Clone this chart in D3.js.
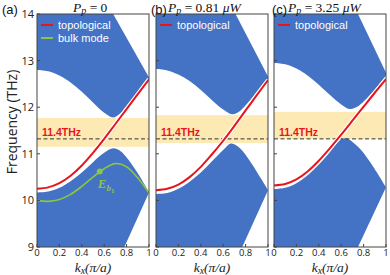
<!DOCTYPE html>
<html>
<head>
<meta charset="utf-8">
<script src="https://cdn.jsdelivr.net/npm/d3@7"></script>
<style>
  body { margin: 0; background: #fff; }
  svg { display: block; }
</style>
</head>
<body>
<svg id="chart" width="390" height="275"></svg>
<script>
// ---- data ----
var panel_tags = ["(a)", "(b)", "(c)"]
var power_values = ["0", "0.81", "3.25"]
var power_units = ["", "\u03bcW", "\u03bcW"]
var x_ticks = [0, 0.2, 0.4, 0.6, 0.8, 1]
var x_tick_labels = ["0", "0.2", "0.4", "0.6", "0.8", "1"]
var y_ticks = [9, 10, 11, 12, 13, 14]

// topological edge state [k, f]
var red_a = [[0,10.25],[0.1,10.28],[0.2,10.37],[0.3,10.53],[0.4,10.75],[0.5,11.02],[0.6,11.32],[0.7,11.64],[0.8,11.96],[0.9,12.28],[1,12.6]]
var red_b = [[0,10.22],[0.1,10.25],[0.2,10.34],[0.3,10.5],[0.4,10.72],[0.5,10.99],[0.6,11.28],[0.7,11.6],[0.8,11.93],[0.9,12.26],[1,12.58]]
var red_c = [[0,10.32],[0.1,10.35],[0.2,10.45],[0.3,10.62],[0.4,10.85],[0.5,11.12],[0.6,11.41],[0.7,11.71],[0.8,12.01],[0.9,12.31],[1,12.6]]

// lower edge of the upper bulk band
var upper_a = [[0,12.8],[0.1,12.77],[0.2,12.68],[0.3,12.53],[0.4,12.33],[0.5,12.1],[0.6,11.88],[0.68,11.78],[0.75,11.88],[0.8,12.03],[0.9,12.32],[1,12.62]]
var upper_b = [[0,12.82],[0.1,12.79],[0.2,12.7],[0.3,12.56],[0.4,12.37],[0.5,12.15],[0.6,11.95],[0.68,11.85],[0.75,11.92],[0.8,12.04],[0.9,12.32],[1,12.62]]
var upper_c = [[0,12.95],[0.1,12.92],[0.2,12.83],[0.3,12.68],[0.4,12.48],[0.5,12.26],[0.6,12.06],[0.68,11.96],[0.75,12.02],[0.8,12.12],[0.9,12.38],[1,12.68]]
// light-line cut of the upper band: k where it leaves the top, f at k=1
var upper_cut = [[0.68, 12.64], [0.71, 12.66], [0.75, 12.74]]

// upper edge of the lower bulk band
var lower_a = [[0,10.17],[0.1,10.19],[0.2,10.27],[0.3,10.41],[0.4,10.6],[0.5,10.82],[0.6,11.02],[0.68,11.12],[0.75,11.05],[0.8,10.92],[0.9,10.58],[1,10.17]]
var lower_b = [[0,10.14],[0.1,10.16],[0.2,10.25],[0.3,10.4],[0.4,10.6],[0.5,10.84],[0.6,11.08],[0.67,11.22],[0.75,11.12],[0.85,10.8],[1,10.22]]
var lower_c = [[0,10.24],[0.1,10.27],[0.2,10.37],[0.3,10.54],[0.4,10.77],[0.5,11.04],[0.6,11.31],[0.65,11.33],[0.75,11.15],[0.85,10.85],[1,10.28]]
// k where the lower band's light line hits f = 9
var lower_cut = [0.78, 0.77, 0.75]

// bulk mode (panel a only)
var green_a = [[0,10.0],[0.1,9.98],[0.2,10.02],[0.3,10.13],[0.4,10.3],[0.5,10.5],[0.6,10.68],[0.7,10.79],[0.8,10.72],[0.9,10.48],[1,10.16]]
var eb1_point = [0.56, 10.62]

// shaded gap [bottom, top] and the 11.4 THz line
var gap_bands = [[11.15, 11.77], [11.23, 11.83], [11.32, 11.9]]
var line_freq = 11.32

// ---- layout ----
var svg = d3.select("#chart")
var panel_left = [37, 156, 274],
    panel_width = 112,
    top_y = 14, bottom_y = 247
var blue = "#4472c4", red = "#e8141c", green = "#8cc63f", gold = "#fde9b4"

var y_scale = d3.scaleLinear().domain([9, 14]).range([bottom_y, top_y])

var reds = [red_a, red_b, red_c],
    uppers = [upper_a, upper_b, upper_c],
    lowers = [lower_a, lower_b, lower_c]

function band_path(x, edge, cut_k, cut_f, flat_f) {
	var head = "M" + x(0) + "," + y_scale(flat_f) +
	           "L" + x(cut_k) + "," + y_scale(flat_f) +
	           "L" + x(1) + "," + y_scale(cut_f)
	var curve = d3.line()
	  .x(d=>x(d[0]))
	  .y(d=>y_scale(d[1]))
	  .curve(d3.curveCatmullRom)(edge.slice().reverse())
	return head + "L" + curve.slice(1) + "Z"
}

panel_left.forEach(function(left, p) {
	var x_scale = d3.scaleLinear().domain([0, 1]).range([left, left + panel_width])
	var line = d3.line().x(d=>x_scale(d[0])).y(d=>y_scale(d[1])).curve(d3.curveCatmullRom)

	svg.append("clipPath").attr("id", "clip" + p)
	  .append("rect")
	  .attr("x", left).attr("y", top_y)
	  .attr("width", panel_width).attr("height", bottom_y - top_y)

	var g = svg.append("g").attr("clip-path", "url(#clip" + p + ")")

	// gap shading
	g.append("rect")
	  .attr("x", left)
	  .attr("y", y_scale(gap_bands[p][1]))
	  .attr("width", panel_width)
	  .attr("height", y_scale(gap_bands[p][0]) - y_scale(gap_bands[p][1]))
	  .style("fill", gold)

	// bulk bands
	g.append("path")
	  .attr("d", band_path(x_scale, uppers[p], upper_cut[p][0], upper_cut[p][1], 14))
	  .style("fill", blue)
	var low = lowers[p]
	g.append("path")
	  .attr("d", band_path(x_scale, low, lower_cut[p], low[low.length - 1][1], 9))
	  .style("fill", blue)

	// 11.4 THz line
	g.append("line")
	  .attr("x1", left).attr("x2", left + panel_width)
	  .attr("y1", y_scale(line_freq)).attr("y2", y_scale(line_freq))
	  .style("stroke", "#333").style("stroke-width", 1)
	  .style("stroke-dasharray", "4,2.5")
	svg.append("text")
	  .attr("x", left + 5).attr("y", y_scale(line_freq) - 3)
	  .text("11.4THz")
	  .style("fill", red).style("font-family", "Liberation Sans").style("font-weight", "bold")
	  .style("font-size", "10.5px")

	if (p == 0) {
		g.append("path").attr("d", line(green_a))
		  .style("fill", "none").style("stroke", green).style("stroke-width", 1.6)
		g.append("circle")
		  .attr("cx", x_scale(eb1_point[0])).attr("cy", y_scale(eb1_point[1])).attr("r", 3)
		  .style("fill", green)
		var eb = svg.append("text")
		  .attr("x", x_scale(eb1_point[0]) - 2).attr("y", y_scale(eb1_point[1]) + 16)
		  .style("fill", green).style("font-family", "Liberation Serif")
		  .style("font-style", "italic").style("font-weight", "bold").style("font-size", "13px")
		eb.append("tspan").text("E")
		eb.append("tspan").attr("dy", 3).style("font-size", "9px").text("b")
		eb.append("tspan").attr("dy", 2).style("font-size", "7px").style("font-style", "normal").text("1")
	}

	// topological state with white halo
	g.append("path").attr("d", line(reds[p]))
	  .style("fill", "none").style("stroke", "#fff").style("stroke-width", 4.2)
	g.append("path").attr("d", line(reds[p]))
	  .style("fill", "none").style("stroke", red).style("stroke-width", 2)

	// legend
	var legend = p == 0 ? [["topological", red], ["bulk mode", green]] : [["topological", red]]
	legend.forEach(function(l, i) {
		var ly = 25 + i * 13
		svg.append("line")
		  .attr("x1", left + 4).attr("x2", left + 16).attr("y1", ly).attr("y2", ly)
		  .style("stroke", l[1]).style("stroke-width", 2)
		svg.append("text")
		  .attr("x", left + 21).attr("y", ly + 4)
		  .text(l[0])
		  .style("fill", "#fff").style("font-family", "Liberation Sans").style("font-size", "11px")
	})

	// frame
	svg.append("rect")
	  .attr("x", left).attr("y", top_y)
	  .attr("width", panel_width).attr("height", bottom_y - top_y)
	  .style("fill", "none").style("stroke", "#444").style("stroke-width", 1)

	// ticks, inward
	svg.selectAll(".xt" + p).data(x_ticks).enter().append("line")
	  .attr("x1", d=>x_scale(d)).attr("x2", d=>x_scale(d))
	  .attr("y1", bottom_y).attr("y2", bottom_y - 3)
	  .style("stroke", "#444")
	svg.selectAll(".xl" + p).data(x_ticks).enter().append("text")
	  .attr("x", d=>x_scale(d)).attr("y", bottom_y + 9)
	  .attr("text-anchor", "middle")
	  .text((d,i)=>x_tick_labels[i])
	  .style("font-family", "Open Sans").style("font-size", "9.5px").style("fill", "#222")
	svg.selectAll(".yt" + p).data(y_ticks).enter().append("line")
	  .attr("x1", left).attr("x2", left + 3)
	  .attr("y1", d=>y_scale(d)).attr("y2", d=>y_scale(d))
	  .style("stroke", "#444")
	if (p == 0) {
		svg.selectAll(".yl").data(y_ticks).enter().append("text")
		  .attr("x", left - 3).attr("y", d=>y_scale(d) + 4)
		  .attr("text-anchor", "end")
		  .text(d=>d)
		  .style("font-family", "Open Sans").style("font-size", "11px").style("fill", "#222")
	}

	// x label  k_x(pi/a)
	var xl = svg.append("text")
	  .attr("x", left + panel_width / 2).attr("y", 272)
	  .attr("text-anchor", "middle")
	  .style("font-family", "Liberation Serif").style("font-style", "italic").style("font-size", "13.5px")
	  .style("fill", "#222")
	xl.append("tspan").text("k")
	xl.append("tspan").attr("dy", 2).style("font-size", "10px").text("x")
	xl.append("tspan").attr("dy", -2).text("(\u03c0/a)")

	// panel tag and title
	var tag_x = [2, 151, 272][p], title_x = [73, 168, 288][p]
	svg.append("text")
	  .attr("x", tag_x).attr("y", 14)
	  .text(panel_tags[p])
	  .style("font-family", "Liberation Sans").style("font-size", "13px").style("fill", "#111")
	var tt = svg.append("text")
	  .attr("x", title_x).attr("y", 12)
	  .style("font-family", "Liberation Serif").style("font-size", "13.5px").style("fill", "#111")
	tt.append("tspan").style("font-style", "italic").text("P")
	tt.append("tspan").attr("dy", 2).style("font-style", "italic").style("font-size", "10px").text("p")
	tt.append("tspan").attr("dy", -2).text(" = " + power_values[p] + (power_units[p] ? " " : ""))
	if (power_units[p]) tt.append("tspan").style("font-style", "italic").text(power_units[p])
})

// y axis title
svg.append("text")
  .attr("transform", "translate(17," + 122 + ") rotate(-90)")
  .attr("text-anchor", "middle")
  .text("Frequency (THz)")
  .style("font-family", "Open Sans").style("font-size", "14px").style("fill", "#222")
</script>
</body>
</html>
